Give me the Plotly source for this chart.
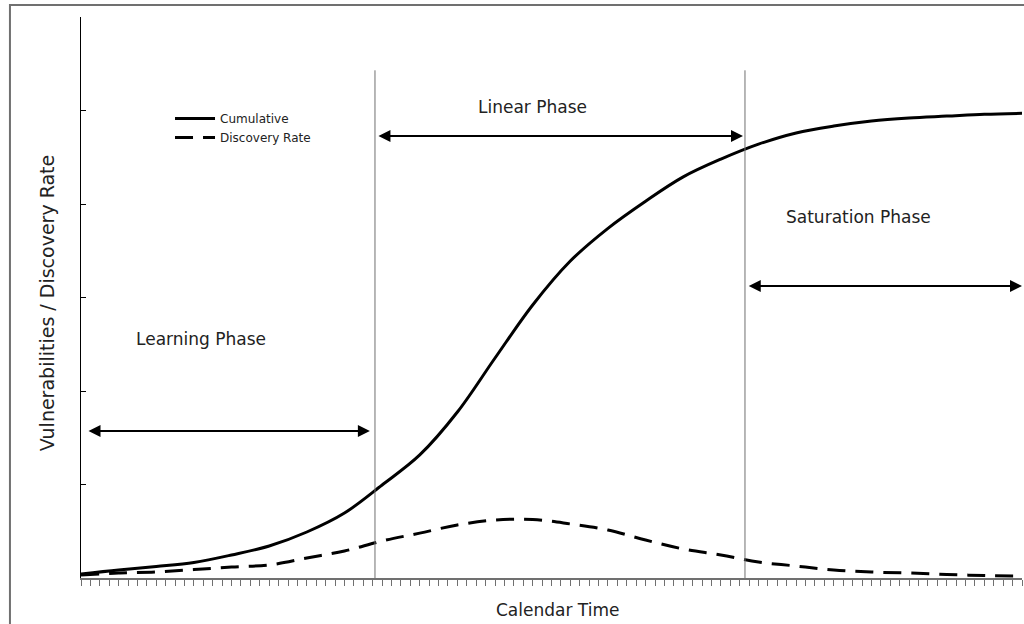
import plotly.graph_objects as go

# Data (calendar time units 0..100, y in arbitrary units 0..6)
time_points = [0, 4, 8, 12, 16, 20, 24, 28, 32, 36, 40, 44, 48, 52, 56, 60, 64, 68, 72, 76, 80, 84, 88, 92, 96, 100]
cumulative = [0.043, 0.086, 0.123, 0.166, 0.246, 0.342, 0.492, 0.695, 0.995, 1.316, 1.775, 2.353, 2.92,
              3.39, 3.74, 4.03, 4.29, 4.48, 4.64, 4.76, 4.834, 4.888, 4.92, 4.94, 4.96, 4.97]
discovery_rate = [0.032, 0.053, 0.064, 0.09, 0.118, 0.139, 0.214, 0.289, 0.396, 0.48, 0.567, 0.62, 0.626,
                  0.578, 0.513, 0.406, 0.31, 0.246, 0.171, 0.128, 0.086, 0.064, 0.053, 0.037, 0.027, 0.021]

phase_boundaries = [31.24, 70.56]
phase_names = ["Learning Phase", "Linear Phase", "Saturation Phase"]

FONT = "DejaVu Sans"

fig = go.Figure()
fig.add_trace(go.Scatter(x=time_points, y=cumulative, mode="lines", name="Cumulative",
                         line=dict(color="black", width=3, shape="spline")))
fig.add_trace(go.Scatter(x=time_points, y=discovery_rate, mode="lines", name="Discovery Rate",
                         line=dict(color="black", width=3, dash="18px,10px", shape="spline")))

shapes = []
for xb in phase_boundaries:
    shapes.append(dict(type="line", xref="x", yref="y", x0=xb, x1=xb, y0=0, y1=5.43,
                       line=dict(color="#707070", width=1)))
# outer border
shapes.append(dict(type="rect", xref="paper", yref="paper", x0=-0.0755, x1=1.02, y0=-0.12, y1=1.0214,
                   line=dict(color="#707070", width=2), fillcolor="rgba(0,0,0,0)", layer="below"))

annotations = []
# phase arrows (double headed)
arrows = [(0.64, 30.7, 1.572), (31.45, 70.35, 4.727), (70.8, 100, 3.123)]
for x0, x1, y in arrows:
    annotations.append(dict(x=x1, y=y, ax=x0, ay=y, xref="x", yref="y", axref="x", ayref="y",
                            text="", showarrow=True, arrowhead=2, arrowside="end+start",
                            arrowsize=1.2, arrowwidth=2, arrowcolor="black", standoff=0, startstandoff=0))
label_pos = [(12.75, 2.556), (48.0, 5.04), (82.6, 3.86)]
for name, (lx, ly) in zip(phase_names, label_pos):
    annotations.append(dict(x=lx, y=ly, xref="x", yref="y", text=name, showarrow=False,
                            xanchor="center", yanchor="middle",
                            font=dict(family=FONT, size=17, color="#222")))
annotations.append(dict(x=0.506, y=-0.057, xref="paper", yref="paper", text="Calendar Time",
                        xanchor="center", yanchor="middle",
                        showarrow=False, font=dict(family=FONT, size=17, color="#222")))
annotations.append(dict(x=-0.0361, y=0.490, xref="paper", yref="paper",
                        text="Vulnerabilities / Discovery Rate", textangle=-90,
                        xanchor="center", yanchor="middle",
                        showarrow=False, font=dict(family=FONT, size=19, color="#222")))

fig.update_layout(
    width=1024, height=624,
    margin=dict(l=81, r=2, t=17, b=46),
    paper_bgcolor="white", plot_bgcolor="white",
    showlegend=True,
    legend=dict(x=0.0946, y=0.845, xanchor="left", yanchor="top", bgcolor="rgba(0,0,0,0)",
                font=dict(family=FONT, size=12, color="#222"), tracegroupgap=0, itemwidth=40),
    shapes=shapes, annotations=annotations,
    xaxis=dict(range=[0, 100], showgrid=False, zeroline=False, showline=True, linecolor="#707070",
               linewidth=2, ticks="outside", tick0=0, dtick=1, ticklen=6, tickcolor="#707070",
               tickwidth=1, showticklabels=False),
    yaxis=dict(range=[0, 6], showgrid=False, zeroline=False, showline=True, linecolor="black",
               linewidth=1, ticks="inside", tick0=0, dtick=1, ticklen=5, tickcolor="black",
               showticklabels=False),
)

fig.write_html("out.html", config={"displayModeBar": False},
               post_script="document.body.style.margin='0';")
